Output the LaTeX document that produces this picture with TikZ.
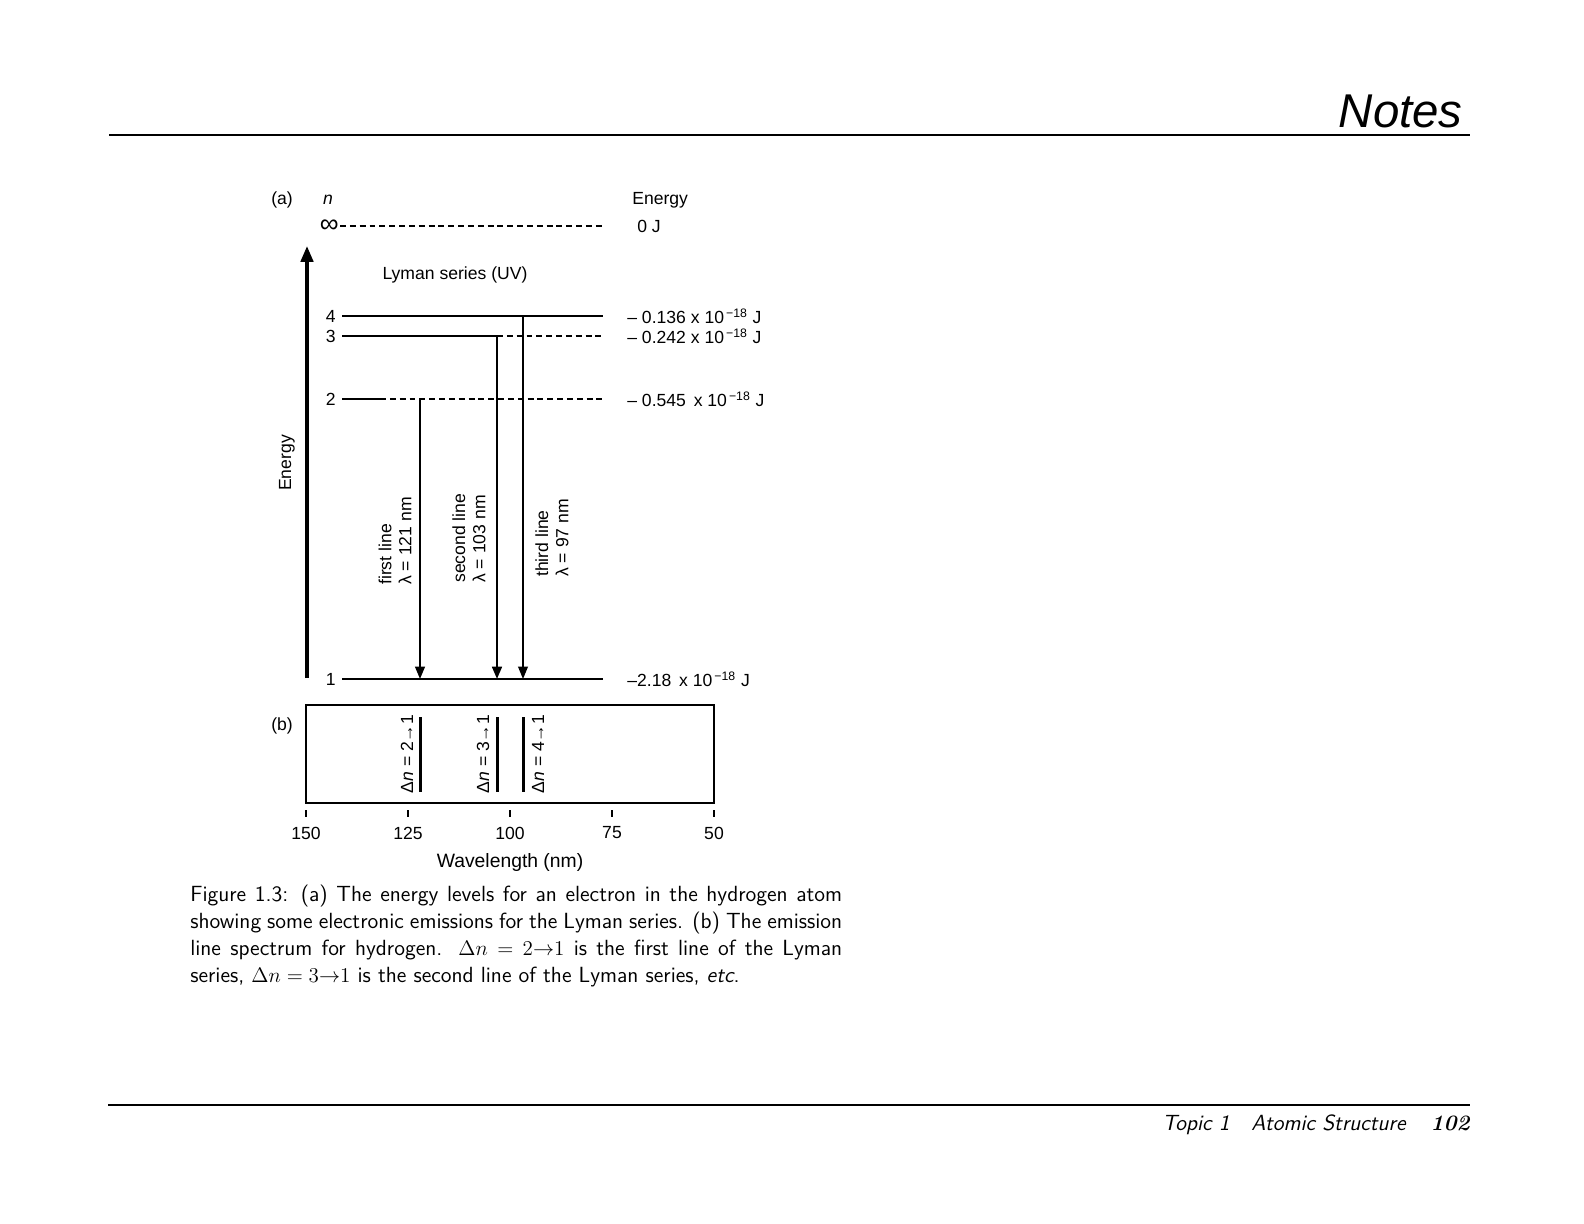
\documentclass[tikz,border=0pt]{standalone}
\usepackage{fontspec}
\newfontfamily\diagfont{Liberation Sans}
\usetikzlibrary{arrows.meta}
\usetikzlibrary{positioning}

\newcommand{\tenexp}{x 10\textsuperscript{\,−18}}

\begin{document}
\begin{tikzpicture}[x=0.02cm, y=-0.02cm,
	lbl/.style={font=\diagfont\fontsize{10}{11.5}\selectfont, inner sep=0pt},
	level/.style={line width=0.8pt},
	dashlevel/.style={line width=0.8pt, dash pattern=on 3.4pt off 2.2pt},
	trans/.style={-{Triangle[length=7pt, width=5.5pt]}},
	specline/.style={line width=1.7pt},
	rule/.style={line width=1.4pt},
	foot/.style={inner sep=0pt, anchor=base west, font=\sffamily\itshape\fontsize{12.5}{15}\selectfont},
	]
	\useasboundingbox (0,0) rectangle (1584,1223);
	
	%Page
	\coordinate (topL) at (109,135);
	\coordinate (topR) at (1470,135);
	\coordinate (botL) at (108,1105);
	\coordinate (botR) at (1470,1105);
	\draw[rule] (topL) -- (topR);
	\draw[rule] (botL) -- (botR);
	\node[inner sep=0pt, anchor=base east, font=\diagfont\itshape\fontsize{27}{32}\selectfont] (notes) at (1463,128) {Notes};
	\node[inner sep=0pt, anchor=base east, font=\bfseries\itshape\fontsize{12.5}{15}\selectfont] (page) at (1470,1130) {102};
	\node[foot] (topic) at (1162,1130) {Topic 1};
	\node[foot] (title) at (1251,1130) {Atomic Structure};
	
	%Nodes
	\node[lbl] (parta) at (282,200) {(a)};
	\node[lbl] (nlab)  at (328,200) {\itshape n};
	\node[lbl, anchor=west] (energy) at (632,200) {Energy};
	\node[lbl, anchor=east, font=\diagfont\fontsize{15}{15}\selectfont] (ninf) at (339,226) {∞};
	\node[lbl, anchor=west] (zero) at (637,226) {0 J};
	\node[lbl] (lyman) at (455,275) {Lyman series (UV)};
	\node[lbl, rotate=90] (eaxis) at (287,463) {Energy};
	\foreach \n/\y in {4/316, 3/336, 2/399, 1/679} {
		\coordinate (w\n) at (342,\y);
		\coordinate (e\n) at (603,\y);
		\node[lbl, anchor=east] (n\n) at (336,\y) {\n};
	}
	\node[lbl, anchor=west] (v4) at (627,316) {– 0.136 \tenexp{} J};
	\node[lbl, anchor=west] (v3) at (627,336) {– 0.242 \tenexp{} J};
	\node[lbl, anchor=west] (v2) at (627,399) {– 0.545\, \tenexp{} J};
	\node[lbl, anchor=west] (v1) at (627,679) {–2.18\, \tenexp{} J};
	\node[lbl, rotate=90, anchor=west, align=left] (first)  at (395,585) {first line\\λ = 121 nm};
	\node[lbl, rotate=90, anchor=west, align=left] (second) at (469,583) {second line\\λ = 103 nm};
	\node[lbl, rotate=90, anchor=west, align=left] (third)  at (552,577) {third line\\λ = 97 nm};
	
	%Lines
	\coordinate (infw) at (340,226);
	\coordinate (infe) at (603,226);
	\coordinate (k2) at (380,399);
	\coordinate (up2) at (420,399);
	\coordinate (dn2) at (420,679);
	\coordinate (up3) at (497,336);
	\coordinate (dn3) at (497,679);
	\coordinate (up4) at (523,316);
	\coordinate (dn4) at (523,679);
	\coordinate (ebot) at (307,678);
	\coordinate (etop) at (307,246);
	\draw[dashlevel] (infw) -- (infe);
	\draw[level] (w4) -- (e4);
	\draw[level] (w3) -- (up3);
	\draw[dashlevel] (up3) -- (e3);
	\draw[line width=1.4pt] (w2) -- (k2);
	\draw[dashlevel] (k2) -- (e2);
	\draw[level] (w1) -- (e1);
	\draw[-{Triangle[length=9pt, width=7pt]}, line width=2pt] (ebot) -- (etop);
	\draw[trans, line width=1.1pt] (up2) -- (dn2);
	\draw[trans, line width=1.4pt] (up3) -- (dn3);
	\draw[trans, line width=0.8pt] (up4) -- (dn4);
	
	%Spectrum
	\node[lbl] (partb) at (282,726) {(b)};
	\coordinate (bx1) at (306,705);
	\coordinate (bx2) at (714,803);
	\draw[line width=0.8pt] (bx1) rectangle (bx2);
	\foreach \x/\k/\lx in {420/2/407, 497/3/483, 523/4/538} {
		\draw[specline] (\x,717) -- (\x,792);
		\node[lbl, rotate=90] (dn\k lab) at (\lx,754) {Δ\textit{n} = \k→1};
	}
	\foreach \w in {150,125,100,75,50} {
		\pgfmathsetmacro\tx{306+(150-\w)*4.08}
		\draw[line width=0.8pt] (\tx,810) -- (\tx,817);
		\node[lbl] (t\w) at (\tx,833) {\w};
	}
	\node[lbl, font=\diagfont\fontsize{11}{12}\selectfont] (wavelength) at (510,862) {Wavelength (nm)};
	
	%Caption
	\node[inner sep=0pt, anchor=base west, align=left, font=\sffamily\fontsize{12.5}{15.3}\selectfont] (caption) at (190,982)
		{\makebox[13.04cm][s]{Figure 1.3: (a) The energy levels for an electron in the hydrogen atom}\\
		\makebox[13.04cm][s]{showing some electronic emissions for the Lyman series. (b) The emission}\\
		\makebox[13.04cm][s]{line spectrum for hydrogen. $\Delta n = 2{\rightarrow}1$ is the first line of the Lyman}\\
		series, $\Delta n = 3{\rightarrow}1$ is the second line of the Lyman series, \textit{etc}.};
\end{tikzpicture}
\end{document}
